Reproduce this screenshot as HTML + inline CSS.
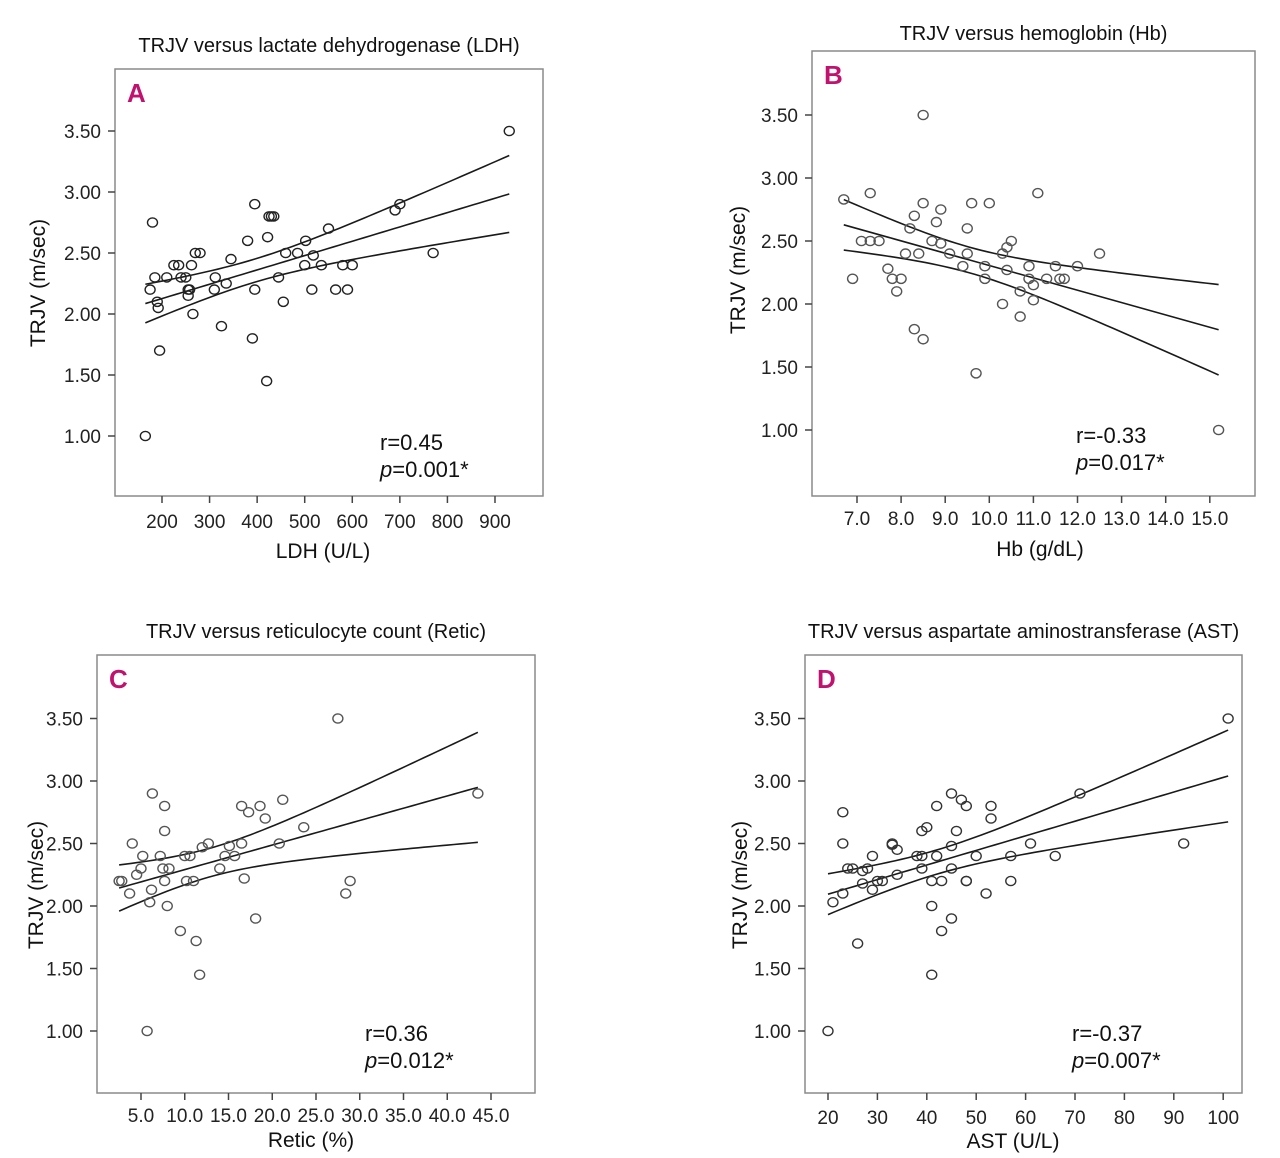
<!DOCTYPE html>
<html><head><meta charset="utf-8">
<style>
html,body{margin:0;padding:0;background:#fff;}
svg{display:block;font-family:"Liberation Sans Narrow","Liberation Sans",sans-serif;}
</style></head>
<body>
<svg id="fig" width="1280" height="1158" viewBox="0 0 1280 1158"></svg>
<script>
// Panel A data (LDH vs TRJV)
const aX=[165,175,180,185,190,192,195,210,225,235,240,250,255,255,258,262,265,270,280,310,312,325,335,345,380,390,395,395,420,422,425,430,435,445,455,460,485,500,502,515,518,535,550,565,580,590,600,690,700,770,930];
const aY=[1.0,2.2,2.75,2.3,2.1,2.05,1.7,2.3,2.4,2.4,2.3,2.3,2.2,2.15,2.2,2.4,2.0,2.5,2.5,2.2,2.3,1.9,2.25,2.45,2.6,1.8,2.2,2.9,1.45,2.63,2.8,2.8,2.8,2.3,2.1,2.5,2.5,2.4,2.6,2.2,2.48,2.4,2.7,2.2,2.4,2.2,2.4,2.85,2.9,2.5,3.5];
const aXTicks=[200,300,400,500,600,700,800,900];
// Panel B data (Hb vs TRJV)
const bX=[6.7,6.9,7.1,7.3,7.3,7.5,7.7,7.8,8.0,7.9,8.1,8.2,8.3,8.3,8.4,8.5,8.5,8.5,8.7,8.8,8.9,8.9,9.1,9.4,9.5,9.5,9.6,9.7,9.9,9.9,10.0,10.3,10.3,10.4,10.4,10.5,10.7,10.7,10.9,10.9,11.0,11.0,11.1,11.3,11.5,11.6,11.7,12.0,12.5,15.2];
const bY=[2.83,2.2,2.5,2.88,2.5,2.5,2.28,2.2,2.2,2.1,2.4,2.6,2.7,1.8,2.4,3.5,2.8,1.72,2.5,2.65,2.75,2.48,2.4,2.3,2.4,2.6,2.8,1.45,2.3,2.2,2.8,2.4,2.0,2.45,2.27,2.5,2.1,1.9,2.3,2.2,2.15,2.03,2.88,2.2,2.3,2.2,2.2,2.3,2.4,1.0];
const bXTicks=[7,8,9,10,11,12,13,14,15];
// Panel C data (Retic vs TRJV)
const cX=[2.5,2.8,3.7,4,4.5,5,5.2,5.7,6,6.2,6.3,7.2,7.5,7.7,7.7,7.7,8,8.2,9.5,10,10.2,10.6,11,11.3,11.7,12,12.7,14,14.6,15.1,15.7,16.5,16.5,16.8,17.3,18.1,18.6,19.2,20.8,21.2,23.6,27.5,28.4,28.9,43.5];
const cY=[2.2,2.2,2.1,2.5,2.25,2.3,2.4,1.0,2.03,2.13,2.9,2.4,2.3,2.6,2.2,2.8,2.0,2.3,1.8,2.4,2.2,2.4,2.2,1.72,1.45,2.47,2.5,2.3,2.4,2.48,2.4,2.5,2.8,2.22,2.75,1.9,2.8,2.7,2.5,2.85,2.63,3.5,2.1,2.2,2.9];
const cXTicks=[5,10,15,20,25,30,35,40,45];
// Panel D data (AST vs TRJV)
const dX=[20,21,23,23,23,24,25,26,27,27,28,29,29,30,31,33,33,34,34,38,39,39,39,40,41,41,41,42,42,43,43,45,45,45,45,46,47,48,48,48,50,52,53,53,57,57,61,66,71,92,101];
const dY=[1.0,2.03,2.75,2.5,2.1,2.3,2.3,1.7,2.28,2.18,2.3,2.4,2.13,2.2,2.2,2.5,2.49,2.45,2.25,2.4,2.4,2.6,2.3,2.63,2.2,2.0,1.45,2.8,2.4,2.2,1.8,2.9,2.48,2.3,1.9,2.6,2.85,2.8,2.2,2.2,2.4,2.1,2.8,2.7,2.4,2.2,2.5,2.4,2.9,2.5,3.5];
const dXTicks=[20,30,40,50,60,70,80,90,100];
const yTicks=[1.0,1.5,2.0,2.5,3.0,3.5];

const NS="http://www.w3.org/2000/svg";
const svg=document.getElementById('fig');
function mk(tag,attrs,parent,text){
  const e=document.createElementNS(NS,tag);
  for(const k in attrs)e.setAttribute(k,attrs[k]);
  if(text!==undefined)e.textContent=text;
  (parent||svg).appendChild(e);return e;
}

function panel(cfg){
  const g=mk('g',{});
  
  
  const sx=v=>cfg.x0px+(v-cfg.x0v)*cfg.xs;
  const sy=v=>cfg.y1px-(v-1)*cfg.ys;
  const fr=mk('rect',{x:cfg.fx,y:cfg.fy,width:cfg.fw,height:cfg.fh,fill:'none',stroke:'#8a8a8a','stroke-width':1.5},g);
  
  
  const t=mk('text',{x:cfg.fx+cfg.fw/2,y:cfg.titleY,'text-anchor':'middle','font-size':20,fill:'#111'},g,cfg.title);
  
  
  const l=mk('text',{x:cfg.fx+12,y:cfg.fy+33,'font-size':26,'font-weight':'bold',fill:'#c0126e'},g,cfg.letter);
  
  
  yTicks.forEach(v=>{
    const y=sy(v);
    const tk=mk('line',{x1:cfg.fx-7,x2:cfg.fx,y1:y,y2:y,stroke:'#444','stroke-width':1.5},g);
    
    
    const tl=mk('text',{x:cfg.fx-14,y:y+7,'text-anchor':'end','font-size':19,fill:'#222'},g,v.toFixed(2));
    
    
  });
  cfg.xticks.forEach(v=>{
    const x=sx(v);
    const tk=mk('line',{x1:x,x2:x,y1:cfg.fy+cfg.fh,y2:cfg.fy+cfg.fh+7,stroke:'#444','stroke-width':1.5},g);
    
    
    const tl=mk('text',{x:x,y:cfg.xlabY,'text-anchor':'middle','font-size':19,fill:'#222'},g,cfg.fmt(v));
    
    
  });
  const xt=mk('text',{x:cfg.xtX,y:cfg.xtY,'text-anchor':'middle','font-size':21,fill:'#111'},g,cfg.xtitle);
  
  
  const yt=mk('text',{x:0,y:0,'text-anchor':'middle','font-size':21,fill:'#111',transform:`translate(${cfg.ytX},${cfg.ytY}) rotate(-90)`},g,'TRJV (m/sec)');
  
  
  const X=cfg.xs_data,Y=cfg.ys_data,n=X.length;
  const mx=X.reduce((a,b)=>a+b,0)/n,my=Y.reduce((a,b)=>a+b,0)/n;
  let sxx=0,sxy=0;for(let i=0;i<n;i++){sxx+=(X[i]-mx)**2;sxy+=(X[i]-mx)*(Y[i]-my);}
  const b=sxy/sxx,a=my-b*mx;
  let sse=0;for(let i=0;i<n;i++)sse+=(Y[i]-a-b*X[i])**2;
  const s=Math.sqrt(sse/(n-2)),tq=2.01;
  const xmin=Math.min(...X),xmax=Math.max(...X);
  const mid=[],up=[],lo=[];
  for(let k=0;k<=60;k++){
    const xv=xmin+(xmax-xmin)*k/60;const yv=a+b*xv;
    const h=tq*s*Math.sqrt(1/n+(xv-mx)**2/sxx);
    mid.push(sx(xv)+','+sy(yv));up.push(sx(xv)+','+sy(yv+h));lo.push(sx(xv)+','+sy(yv-h));
  }
  [[mid,'fit-line'],[up,'ci-upper-line'],[lo,'ci-lower-line']].forEach(([pts,nm])=>{
    const p=mk('polyline',{points:pts.join(' '),fill:'none',stroke:'#1a1a1a','stroke-width':1.6},g);
    
    
  });
  for(let i=0;i<n;i++){
    const c=mk('ellipse',{cx:sx(X[i]),cy:sy(Y[i]),rx:5,ry:4.6,fill:'none',stroke:cfg.pc,'stroke-width':1.4},g);
    
    
  }
  const r=mk('text',{x:cfg.sX,y:cfg.sY,'font-size':22,fill:'#111'},g,cfg.r);
  
  
  const p=mk('text',{x:cfg.sX,y:cfg.sY+27,'font-size':22,fill:'#111'},g);
  
  
  mk('tspan',{'font-style':'italic'},p,'p');
  mk('tspan',{},p,cfg.p);
}

panel({id:'panel-a',letter:'A',title:'TRJV versus lactate dehydrogenase (LDH)',titleY:52,
  fx:115,fy:69,fw:428,fh:427,x0v:200,x0px:162,xs:0.4757,y1px:436,ys:122,
  xticks:aXTicks,fmt:v=>String(v),xlabY:528,xtitle:'LDH (U/L)',xtX:323,xtY:558,ytX:45,ytY:283,
  xs_data:aX,ys_data:aY,pc:'#222',r:'r=0.45',p:'=0.001*',sX:380,sY:450});
panel({id:'panel-b',letter:'B',title:'TRJV versus hemoglobin (Hb)',titleY:40,
  fx:812,fy:51,fw:443,fh:445,x0v:7,x0px:857,xs:44.1,y1px:430,ys:126,
  xticks:bXTicks,fmt:v=>v.toFixed(1),xlabY:525,xtitle:'Hb (g/dL)',xtX:1040,xtY:556,ytX:745,ytY:270,
  xs_data:bX,ys_data:bY,pc:'#555',r:'r=-0.33',p:'=0.017*',sX:1076,sY:443});
panel({id:'panel-c',letter:'C',title:'TRJV versus reticulocyte count (Retic)',titleY:638,
  fx:97,fy:655,fw:438,fh:438,x0v:5,x0px:141,xs:8.75,y1px:1031,ys:125,
  xticks:cXTicks,fmt:v=>v.toFixed(1),xlabY:1122,xtitle:'Retic (%)',xtX:311,xtY:1147,ytX:43,ytY:885,
  xs_data:cX,ys_data:cY,pc:'#555',r:'r=0.36',p:'=0.012*',sX:365,sY:1041});
panel({id:'panel-d',letter:'D',title:'TRJV versus aspartate aminostransferase (AST)',titleY:638,
  fx:805,fy:655,fw:437,fh:438,x0v:20,x0px:828,xs:4.94,y1px:1031,ys:125,
  xticks:dXTicks,fmt:v=>String(v),xlabY:1124,xtitle:'AST (U/L)',xtX:1013,xtY:1148,ytX:747,ytY:885,
  xs_data:dX,ys_data:dY,pc:'#333',r:'r=-0.37',p:'=0.007*',sX:1072,sY:1041});
</script>
</body></html>
